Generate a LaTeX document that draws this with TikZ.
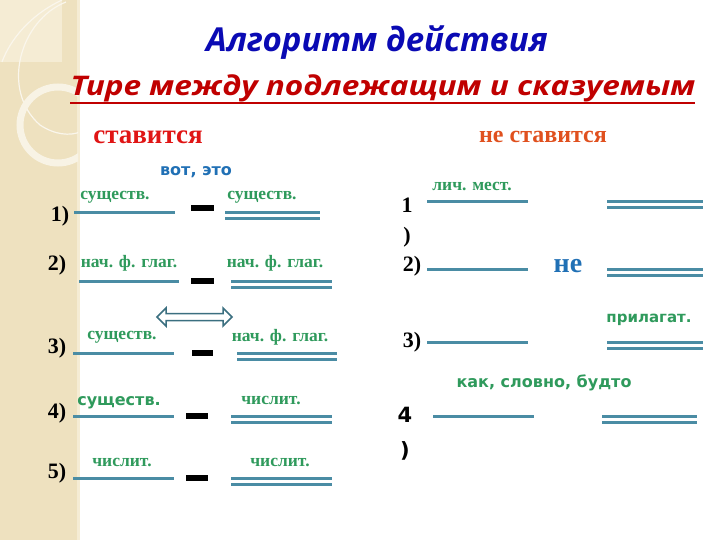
\documentclass[tikz,border=0pt]{standalone}
\usepackage{fontspec}
\setmainfont{Liberation Serif}
\newfontfamily\titlefont{Open Sans}
\newfontfamily\labelfont{DejaVu Sans}
\usetikzlibrary{positioning}
\definecolor{panel}{HTML}{EEE1BF}
\definecolor{panellight}{HTML}{F5ECD4}
\definecolor{linecol}{HTML}{4A8CA4}
\definecolor{arrowcol}{HTML}{3B6F80}
\definecolor{wordgreen}{HTML}{2F9A5C}
\definecolor{titleblue}{HTML}{0A0AB4}
\definecolor{titlered}{HTML}{C00000}
\definecolor{putred}{HTML}{E01515}
\definecolor{notred}{HTML}{E0501E}
\definecolor{wordblue}{HTML}{2070B5}
\tikzset{
  subj/.style={line width=3pt, draw=linecol},
  pred/.style={line width=3pt, draw=linecol},
  tirebar/.style={line width=6.5pt, draw=black},
  num/.style={font=\bfseries\fontsize{22}{30}\selectfont, align=center, inner sep=0pt},
  word/.style={font=\bfseries\fontsize{17.5}{20}\selectfont, text=wordgreen, inner sep=0pt},
  sword/.style={font=\labelfont\bfseries\fontsize{15}{18}\selectfont, text=wordgreen, inner sep=0pt}
}
\begin{document}
\begin{tikzpicture}[x=1pt,y=-1pt]
\useasboundingbox (0,0) rectangle (720,540);
\fill[white] (0,0) rectangle (720,540);
\fill[panel] (0,0) rectangle (79,540);
\fill[panellight] (0,0) rectangle (62,62);
\fill[panellight] (77,0) rectangle (80,540);
\begin{scope}
\clip (0,0) rectangle (78,540);
\draw[white!70!panel, line width=1.2pt] (62,0) .. controls (30,15) and (10,40) .. (2,62);
\draw[white!70!panel, line width=1.2pt] (66,2) .. controls (20,20) and (0,90) .. (40,125) .. controls (55,135) and (70,136) .. (80,132);
\draw[white!60!panel, line width=7pt] (58,125) circle (38);
\end{scope}
\node[font=\titlefont\bfseries\itshape\fontsize{33}{38}\selectfont, text=titleblue] (title) at (377,43) {Алгоритм действия};
\node[font=\titlefont\bfseries\itshape\fontsize{27}{32}\selectfont, text=titlered] (subtitle) at (383,88) {\scalebox{1.17}[1]{Тире между подлежащим и сказуемым}};
\draw[titlered, line width=2.8pt] (70,103) -- (695,103);
\node[font=\bfseries\fontsize{27}{30}\selectfont, text=putred] (put) at (148,137) {ставится};
\node[font=\bfseries\fontsize{24}{28}\selectfont, text=notred] (notput) at (543,137) {не ставится};
\node[font=\labelfont\bfseries\fontsize{16}{18}\selectfont, text=wordblue, inner sep=0pt] (vot) at (196,172) {вот, это};
\node[num] (n1) at (60,216) {1)};
\node[num] (n2) at (57,265) {2)};
\node[num] (n3) at (57,348) {3)};
\node[num] (n4) at (57,413) {4)};
\node[num] (n5) at (57,473) {5)};
\node[word] (s1) at (115,197) {существ.};
\node[word] (p1) at (262,197) {существ.};
\node[word] (s2) at (129,263) {нач. ф. глаг.};
\node[word] (p2) at (275,263) {нач. ф. глаг.};
\node[word] (s3) at (122,337) {существ.};
\node[word] (p3) at (280,337) {нач. ф. глаг.};
\node[sword, font=\labelfont\bfseries\fontsize{16}{18}\selectfont] (s4) at (119,403) {существ.};
\node[word] (p4) at (271,400) {числит.};
\node[word] (s5) at (122,462) {числит.};
\node[word] (p5) at (280,462) {числит.};
\draw[subj] (74,213) -- (175,213);
\draw[subj] (79,281) -- (179,281);
\draw[subj] (73,353) -- (174,353);
\draw[subj] (73,416) -- (174,416);
\draw[subj] (73,478) -- (174,478);
\draw[tirebar] (191,208) -- (214,208);
\draw[tirebar] (191,281) -- (214,281);
\draw[tirebar] (192,353) -- (213,353);
\draw[tirebar] (186,416) -- (208,416);
\draw[tirebar] (186,478) -- (208,478);
\draw[pred] (225,213) -- (320,213) (225,219) -- (320,219);
\draw[pred] (231,281) -- (332,281) (231,287) -- (332,287);
\draw[pred] (237,353) -- (337,353) (237,359.5) -- (337,359.5);
\draw[pred] (231,416) -- (332,416) (231,422) -- (332,422);
\draw[pred] (231,478) -- (332,478) (231,484) -- (332,484);
\draw[arrowcol, line width=1.5pt, fill=white, line join=miter] (157,317) -- (166,308) -- (166,313.5) -- (223,313.5) -- (223,308) -- (232,317) -- (223,326) -- (223,320.5) -- (166,320.5) -- (166,326) -- cycle;
\node[num] (m1) at (407,223) {1\\)};
\node[num] (m2) at (412,266) {2)};
\node[num] (m3) at (412,342) {3)};
\node[num, font=\labelfont\bfseries\fontsize{21}{35}\selectfont] (m4) at (405,434) {4\\)};
\node[word] (r1) at (472,187) {лич. мест.};
\node[font=\bfseries\fontsize{28}{32}\selectfont, text=wordblue, inner sep=0pt] (ne) at (568,266) {не};
\node[sword] (r3) at (649,320) {прилагат.};
\node[sword, font=\labelfont\bfseries\fontsize{16}{18}\selectfont] (r4) at (544,383) {как, словно, будто};
\draw[subj] (427,202) -- (528,202);
\draw[subj] (427,269) -- (528,269);
\draw[subj] (427,342) -- (528,342);
\draw[subj] (433,416) -- (534,416);
\draw[pred] (607,202) -- (703,202) (607,208) -- (703,208);
\draw[pred] (607,269) -- (703,269) (607,275) -- (703,275);
\draw[pred] (607,342) -- (703,342) (607,348.5) -- (703,348.5);
\draw[pred] (602,416) -- (697,416) (602,422) -- (697,422);
\end{tikzpicture}
\end{document}
